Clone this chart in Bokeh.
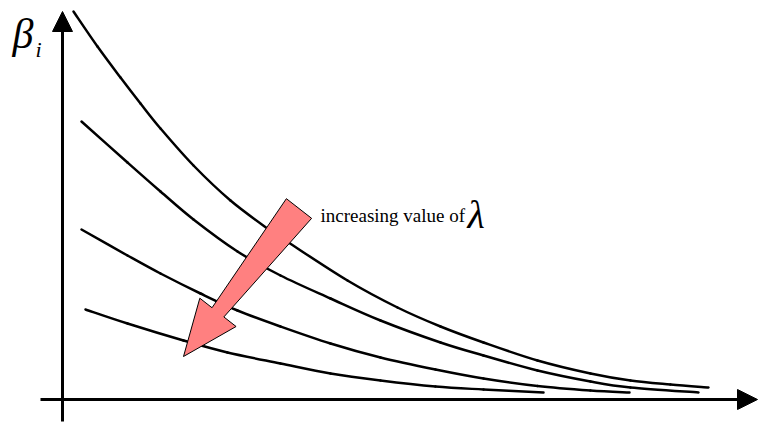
import numpy as np
from bokeh.plotting import figure
from bokeh.models import Range1d, Arrow, NormalHead, Label
from bokeh.embed import file_html
from bokeh.resources import INLINE

# Decay curves of beta_i, one per lambda (smallest lambda on top)
x1 = [11, 35, 58, 78, 98, 131, 168, 205, 226, 285, 335, 378, 421, 475, 528, 568, 608, 646]
y1 = [388, 353, 322, 296, 271, 234, 199, 171, 157, 119, 92, 73, 57, 39, 26, 19, 15, 12]

x2 = [19, 65, 98, 131, 175, 218, 268, 318, 378, 421, 475, 528, 568, 636]
y2 = [278, 237, 208, 180, 148, 124, 101, 79, 57, 44, 29, 18, 12, 7]

x3 = [19, 65, 98, 138, 175, 218, 268, 318, 373, 421, 475, 528, 567]
y3 = [170, 144, 126, 106, 89, 73, 56, 42, 30, 21, 13.5, 9, 7]

x4 = [23, 65, 121, 165, 218, 268, 318, 373, 421, 481]
y4 = [90, 76, 59, 47, 36, 26, 19, 13, 10, 7]

curves_x = [x1, x2, x3, x4]
curves_y = [y1, y2, y3, y4]

SERIF = "'Liberation Serif', 'Times New Roman', serif"

p = figure(width=758, height=422, x_range=Range1d(-62, 696), y_range=Range1d(-23, 399),
           output_backend="svg", toolbar_location=None, min_border=0,
           background_fill_color="white", border_fill_color="white")
p.axis.visible = False
p.grid.visible = False
p.outline_line_color = None

# axes drawn as arrows through the origin
p.add_layout(Arrow(end=NormalHead(size=20, fill_color="black", line_color="black", line_width=1),
                   x_start=-22, y_start=0, x_end=695, y_end=0, line_width=3, line_color="black"))
p.add_layout(Arrow(end=NormalHead(size=20, fill_color="black", line_color="black", line_width=1),
                   x_start=0, y_start=-22, x_end=0, y_end=388, line_width=3, line_color="black"))


def smooth_segments(xs, ys):
    """Bezier pieces of a Catmull-Rom curve passing through every point."""
    px = [xs[0]] + list(xs) + [xs[-1]]
    py = [ys[0]] + list(ys) + [ys[-1]]
    seg = dict(x0=[], y0=[], x1=[], y1=[], cx0=[], cy0=[], cx1=[], cy1=[])
    for i in range(1, len(px) - 2):
        seg["x0"].append(px[i]); seg["y0"].append(py[i])
        seg["x1"].append(px[i + 1]); seg["y1"].append(py[i + 1])
        seg["cx0"].append(px[i] + (px[i + 1] - px[i - 1]) / 6)
        seg["cy0"].append(py[i] + (py[i + 1] - py[i - 1]) / 6)
        seg["cx1"].append(px[i + 1] - (px[i + 2] - px[i]) / 6)
        seg["cy1"].append(py[i + 1] - (py[i + 2] - py[i]) / 6)
    return seg


for xs, ys in zip(curves_x, curves_y):
    s = smooth_segments(xs, ys)
    p.bezier(x0=s["x0"], y0=s["y0"], x1=s["x1"], y1=s["y1"],
             cx0=s["cx0"], cy0=s["cy0"], cx1=s["cx1"], cy1=s["cy1"],
             line_width=2.5, line_color="black", line_cap="round")


# tapered block arrow pointing down-left
def block_arrow(tail, tip, tail_w, neck_w, head_w, head_len):
    tail = np.array(tail, float)
    tip = np.array(tip, float)
    u = (tip - tail) / np.linalg.norm(tip - tail)
    n = np.array([-u[1], u[0]])
    base = tip - u * head_len
    pts = [tail + n * tail_w / 2, base + n * neck_w / 2, base + n * head_w / 2, tip,
           base - n * head_w / 2, base - n * neck_w / 2, tail - n * tail_w / 2]
    return [q[0] for q in pts], [q[1] for q in pts]


ax, ay = block_arrow((236.5, 191), (121, 43), 32, 15, 46, 56)
p.patch(ax, ay, fill_color="#FF8080", line_color="black", line_width=1)

p.add_layout(Label(x=258, y=184, text="increasing value of", text_font=SERIF,
                   text_font_size="19px", text_color="black", text_baseline="alphabetic"))
p.add_layout(Label(x=405, y=185, text="λ", text_font=SERIF, text_font_style="italic",
                   text_font_size="40px", text_color="black", text_baseline="alphabetic"))
p.add_layout(Label(x=-50, y=366, text="β", text_font=SERIF, text_font_style="italic",
                   text_font_size="42px", text_color="black", text_baseline="alphabetic"))
p.add_layout(Label(x=-27, y=350, text="i", text_font=SERIF, text_font_style="italic",
                   text_font_size="22px", text_color="black", text_baseline="alphabetic"))

open("out.html", "w").write(file_html(p, INLINE))
